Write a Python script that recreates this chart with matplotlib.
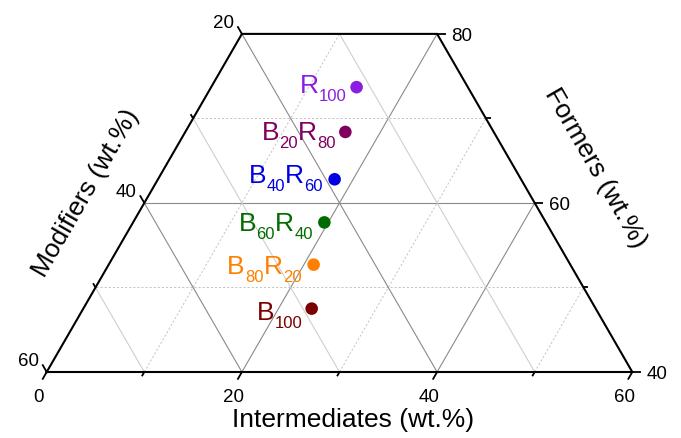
import numpy as np
import matplotlib
matplotlib.use("Agg")
import matplotlib.pyplot as plt
from matplotlib.transforms import offset_copy

plt.rcParams['font.family'] = ['Liberation Sans', 'DejaVu Sans']

# Glass compositions (wt.%)
samples = ["R100", "B20R80", "B40R60", "B60R40", "B80R20", "B100"]
label_parts = [
    [("R", "100")],
    [("B", "20"), ("R", "80")],
    [("B", "40"), ("R", "60")],
    [("B", "60"), ("R", "40")],
    [("B", "80"), ("R", "20")],
    [("B", "100")],
]
formers = [73.7, 68.4, 62.8, 57.7, 52.7, 47.5]
intermediates = [14.9, 16.4, 18.1, 19.6, 21.0, 23.4]
modifiers = [11.4, 15.2, 19.1, 22.7, 26.3, 29.1]
colors = ["#8A1EE0", "#80005E", "#0000E0", "#006C00", "#FF8000", "#780000"]

# label placement relative to each marker: (right end, baseline drop) in pixels
label_offsets = [(-10, 5.6), (-9.5, 8.0), (-11.5, 4.0), (-11.5, 8.3), (-12, 9.3), (-9.5, 11.0)]

# axis ranges of the partial ternary
I_TICKS = [0, 10, 20, 30, 40, 50, 60]
M_TICKS = [20, 30, 40, 50, 60]
F_TICKS = [40, 50, 60, 70, 80]
MAJOR = {0, 20, 40, 60, 80}

SQ3 = np.sqrt(3) / 2


def tern(i, m, f):
    s = i + m + f
    i, f = 100 * i / s, 100 * f / s
    return i + f / 2, f * SQ3


fig = plt.figure(figsize=(6.81, 4.38), dpi=100)
ax = fig.add_axes([0, 0, 1, 1])
ax.set_xlim(15.215, 84.99)
ax.set_ylim(27.879, 72.755)
ax.axis("off")

# ---- grid lines ----
major_kw = dict(color="#8a8a8a", lw=0.8, zorder=1)
solid_minor_kw = dict(color="#cfcfcf", lw=0.8, zorder=1)
dash_minor_kw = dict(color="#c4c4c4", lw=0.7, ls=(0, (2.2, 2.0)), zorder=1)

for f in [50, 60, 70]:
    p0 = tern(0, 100 - f, f)
    p1 = tern(100 - f, 0, f)
    kw = major_kw if f in MAJOR else dash_minor_kw
    ax.plot([p0[0], p1[0]], [p0[1], p1[1]], **kw)

for i in [10, 20, 30, 40, 50]:
    ftop = min(80, 100 - i)
    p0 = tern(i, 60 - i, 40)
    p1 = tern(i, 100 - i - ftop, ftop)
    kw = major_kw if i in MAJOR else dash_minor_kw
    ax.plot([p0[0], p1[0]], [p0[1], p1[1]], **kw)

for m in [10, 20, 30, 40, 50]:
    ftop = min(80, 100 - m)
    p0 = tern(60 - m, m, 40)
    p1 = tern(100 - m - ftop, m, ftop)
    kw = major_kw if m in MAJOR else solid_minor_kw
    ax.plot([p0[0], p1[0]], [p0[1], p1[1]], **kw)

# ---- frame ----
corners = [tern(0, 60, 40), tern(60, 0, 40), tern(20, 0, 80), tern(0, 20, 80), tern(0, 60, 40)]
ax.plot([c[0] for c in corners], [c[1] for c in corners], color="black", lw=1.5,
        zorder=3, solid_joinstyle="miter")

# ---- ticks and tick labels ----
tick_fs = 13.5
tick_kw = dict(color="black", lw=1.3, zorder=3, solid_capstyle="butt")


def label_at(pt, text, dx, dy, ha="center"):
    tr = offset_copy(ax.transData, fig=fig, x=dx, y=dy, units="dots")
    ax.text(pt[0], pt[1], text, transform=tr, fontsize=tick_fs, ha=ha, va="baseline")


for i in I_TICKS:
    p = tern(i, 60 - i, 40)
    L = 0.9 if i in MAJOR else 0.5
    ax.plot([p[0], p[0] - 0.5 * L], [p[1], p[1] - SQ3 * L], **tick_kw)
    if i in MAJOR:
        label_at(p, str(i), -8, -30)

for m in M_TICKS:
    p = tern(0, m, 100 - m)
    L = 0.9 if m in MAJOR else 0.5
    ax.plot([p[0], p[0] - 0.5 * L], [p[1], p[1] + SQ3 * L], **tick_kw)
    if m in MAJOR:
        label_at(p, str(m), -18.7, 5.7)

for f in F_TICKS:
    p = tern(100 - f, 0, f)
    L = 0.9 if f in MAJOR else 0.5
    ax.plot([p[0], p[0] + L], [p[1], p[1]], **tick_kw)
    if f in MAJOR:
        label_at(p, str(f), 24.7, -6.8)

# ---- axis titles ----
title_fs = 19
fig.text(353 / 681, 1 - 427 / 438, "Intermediates (wt.%)", fontsize=title_fs,
         ha="center", va="baseline")
fig.text(86 / 681, 1 - 193 / 438, "Modifiers (wt.%)", fontsize=title_fs,
         ha="center", va="center", rotation=60, rotation_mode="anchor")
fig.text(595 / 681, 1 - 168 / 438, "Formers (wt.%)", fontsize=title_fs,
         ha="center", va="center", rotation=-60, rotation_mode="anchor")

# ---- data points ----
xs, ys = zip(*[tern(i, m, f) for i, m, f in zip(intermediates, modifiers, formers)])
ax.scatter(xs, ys, s=82, c=colors, edgecolors="none", zorder=5)

# ---- sample labels with subscripts ----
MAIN_FS, SUB_FS, SUB_DROP = 19, 12, 8.0
renderer = fig.canvas.get_renderer()

for x, y, parts, col, (dx_end, drop) in zip(xs, ys, label_parts, colors, label_offsets):
    pieces = []
    cursor = 0.0
    for base, sub in parts:
        for s, is_sub in ((base, False), (sub, True)):
            t = ax.text(x, y, s, fontsize=SUB_FS if is_sub else MAIN_FS, color=col,
                        ha="left", va="baseline", zorder=6)
            w = t.get_window_extent(renderer).width
            pieces.append((t, cursor, SUB_DROP if is_sub else 0.0))
            cursor += w + (0.0 if is_sub else 0.4)
    for t, c, d in pieces:
        t.set_transform(offset_copy(ax.transData, fig=fig, x=c - cursor + dx_end,
                                    y=-drop - d, units="dots"))

fig.savefig("out.png", dpi=100)
